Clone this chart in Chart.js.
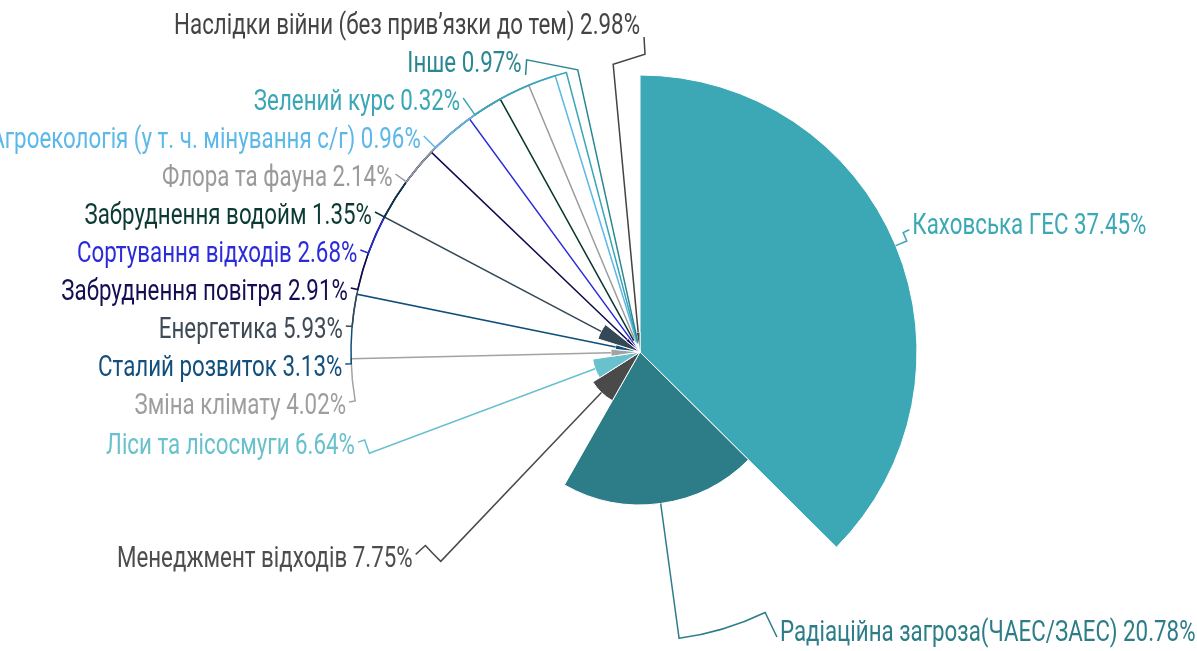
<!DOCTYPE html>
<html>
<head>
<meta charset="utf-8">
<script src="https://cdn.jsdelivr.net/npm/chart.js@4.4.1/dist/chart.umd.min.js"></script>
<style>
html,body{margin:0;padding:0;background:#ffffff;}
#wrap{width:1197px;height:651px;position:relative;}
</style>
</head>
<body>
<div id="wrap"><canvas id="c" width="1197" height="651"></canvas></div>
<script>
// ---- data ----
const categories = [
  'Каховська ГЕС',
  'Радіаційна загроза(ЧАЕС/ЗАЕС)',
  'Менеджмент відходів',
  'Ліси та лісосмуги',
  'Зміна клімату',
  'Сталий розвиток',
  'Енергетика',
  'Забруднення повітря',
  'Сортування відходів',
  'Забруднення водойм',
  'Флора та фауна',
  'Агроекологія (у т. ч. мінування с/г)',
  'Зелений курс',
  'Інше',
  'Наслідки війни (без прив’язки до тем)'
];
const shares = [37.45, 20.78, 7.75, 6.64, 4.02, 3.13, 5.93, 2.91, 2.68, 1.35, 2.14, 0.96, 0.32, 0.97, 2.98];
// relative slice radius (0-100)
const sliceRadius = [100, 55.2, 20.2, 17.3, 10.5, 9.0, 15.9, 6.5, 5.4, 4.7, 5.4, 4.0, 3.2, 4.0, 7.2];
const colors = ['#3ca7b5', '#2c7d88', '#4a4a4a', '#68c1cc', '#a3a3a3', '#0e4f7c', '#344856', '#0f0b50',
                '#2b2bdb', '#08392f', '#9c9c9c', '#5cb8e8', '#3aa6b6', '#2a8791', '#444444'];
const labelColors = ['#3ca7b5', '#2c7d88', '#4d4d4d', '#68c1cc', '#9e9e9e', '#124f7c', '#3e4a55', '#130d54',
                     '#2b2bd9', '#0b3a32', '#9a9a9a', '#5cb8e8', '#3aa6b6', '#2a8791', '#444444'];

// ---- label / connector plugin ----
const FONT = '400 29px Roboto';
const CONDENSE = 0.77;
const labelPlugin = {
  id: 'pieLabels',
  afterDatasetsDraw(chart) {
    const meta = chart.getDatasetMeta(0);
    const scale = chart.scales.r;
    const cx = scale.xCenter, cy = scale.yCenter, R = scale.drawingArea;
    const ctx = chart.ctx;
    const Rb = R + 12, Rt = R + 23, Rx = R + 21, Ry = R + 39;
    const gap = 38, minY = 27, maxY = chart.height - 17;
    const items = meta.data.map((arc, i) => {
      const p = arc.getProps(['startAngle', 'endAngle', 'outerRadius']);
      const a = (p.startAngle + p.endAngle) / 2;
      const left = Math.cos(a) < 0 || (Math.cos(a) === 0 && Math.sin(a) < 0);
      return {i, a, r: p.outerRadius, left, target: cy + Rt * Math.sin(a) - 10};
    });
    function distribute(list) {
      list.sort((p, q) => p.target - q.target);
      const groups = list.map(it => ({items: [it], sum: it.target}));
      const pos = g => {
        const n = g.items.length;
        let top = g.sum / n - (n - 1) * gap / 2;
        return Math.max(minY, Math.min(top, maxY - (n - 1) * gap));
      };
      let merged = true;
      while (merged) {
        merged = false;
        for (let k = 0; k < groups.length - 1; k++) {
          const g1 = groups[k], g2 = groups[k + 1];
          if (pos(g1) + g1.items.length * gap > pos(g2) + 0.01) {
            g1.items.push(...g2.items); g1.sum += g2.sum;
            groups.splice(k + 1, 1); merged = true; break;
          }
        }
      }
      groups.forEach(g => { const t = pos(g); g.items.forEach((it, k) => { it.y = t + k * gap; }); });
    }
    distribute(items.filter(it => it.left));
    distribute(items.filter(it => !it.left));

    ctx.save();
    ctx.font = FONT;
    ctx.textBaseline = 'middle';
    items.forEach(it => {
      const i = it.i;
      const dy = it.y - cy - 3;
      const f = Math.abs(dy) >= Ry ? 0 : Math.sqrt(1 - (dy / Ry) * (dy / Ry));
      const dx = Rx * f;
      const tx = it.left ? cx - dx : cx + dx;
      const ax = it.left ? tx + 3 : tx - 3;
      const ay = it.left ? it.y - 5 : it.y + 3;
      // connector
      ctx.beginPath();
      ctx.strokeStyle = colors[i];
      ctx.lineWidth = 1.5;
      ctx.lineJoin = 'miter';
      ctx.moveTo(cx + Math.cos(it.a) * it.r, cy + Math.sin(it.a) * it.r);
      ctx.lineTo(cx + Math.cos(it.a) * Rb, cy + Math.sin(it.a) * Rb);
      const ac = Math.atan2(ay - cy, ax - cx);
      let d = ac - it.a;
      while (d > Math.PI) d -= 2 * Math.PI;
      while (d < -Math.PI) d += 2 * Math.PI;
      if (Math.abs(ay - cy) > Rb) {
        const by = cy + Math.sin(it.a) * Rb;
        ctx.lineTo(ax + 2, by - 10);
        ctx.lineTo(ax + 1, it.y + 10);
      } else {
        ctx.arc(cx, cy, Rb, it.a, it.a + d, d < 0);
        ctx.lineTo(ax, ay);
      }
      ctx.stroke();
      // text
      ctx.save();
      ctx.translate(tx, it.y);
      ctx.scale(CONDENSE, 1);
      ctx.fillStyle = labelColors[i];
      ctx.textAlign = it.left ? 'right' : 'left';
      ctx.fillText(categories[i] + ' ' + shares[i].toFixed(2) + '%', 0, 0);
      ctx.restore();
    });
    ctx.restore();
  }
};

new Chart(document.getElementById('c'), {
  type: 'polarArea',
  data: {
    labels: categories,
    datasets: [{
      data: sliceRadius,
      angle: ctx => shares[ctx.dataIndex] * 3.6,
      backgroundColor: colors,
      borderColor: '#ffffff',
      borderWidth: 1
    }]
  },
  options: {
    responsive: false,
    devicePixelRatio: 1,
    animation: false,
    layout: {padding: {left: 363, right: 280, top: 75, bottom: 22}},
    plugins: {legend: {display: false}, tooltip: {enabled: false}},
    scales: {
      r: {
        min: 0, max: 100,
        ticks: {display: false},
        grid: {display: false},
        angleLines: {display: false},
        pointLabels: {display: false}
      }
    }
  },
  plugins: [labelPlugin]
});
</script>
</body>
</html>
